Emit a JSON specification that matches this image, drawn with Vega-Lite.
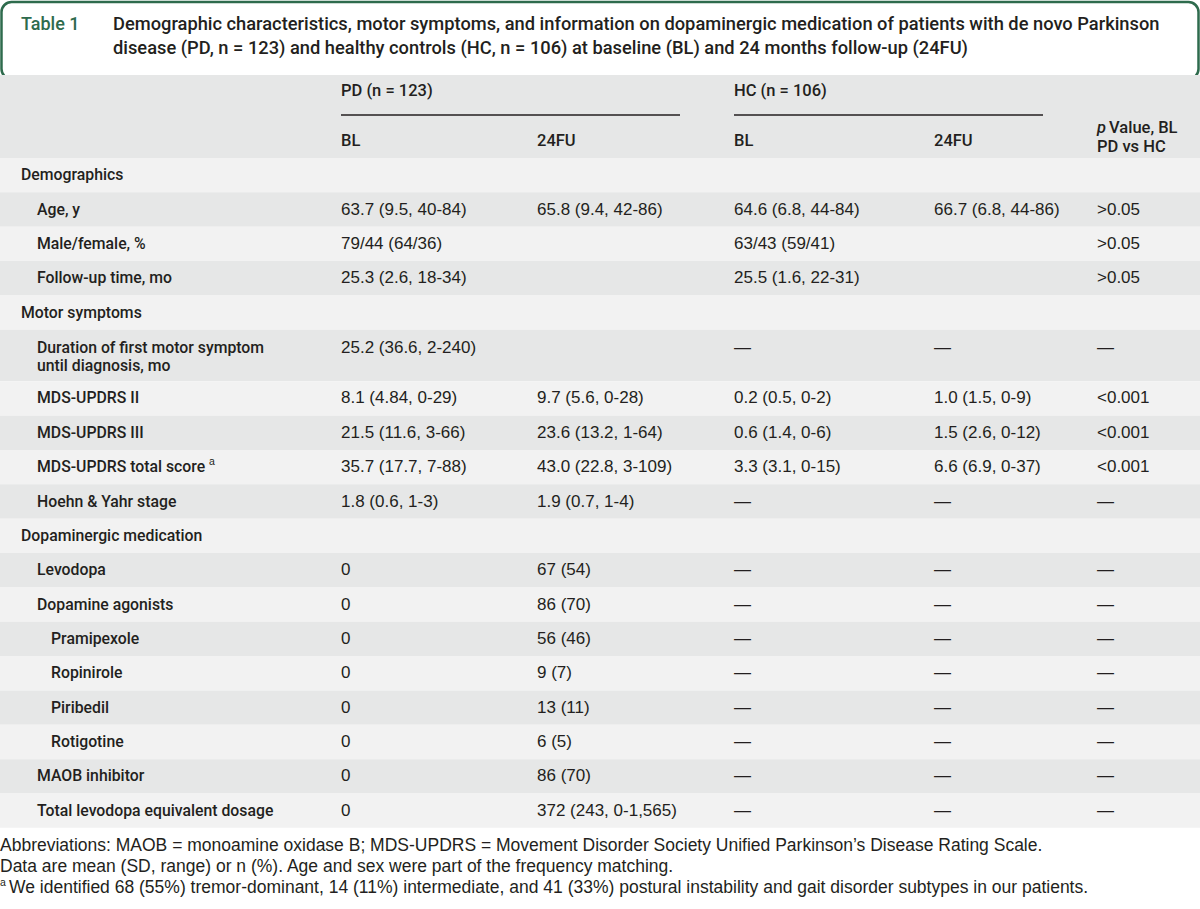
{
  "$schema": "https://vega.github.io/schema/vega-lite/v6.json",
  "width": 1200,
  "height": 909,
  "padding": 0,
  "autosize": {"type": "none"},
  "background": "#ffffff",
  "config": {"view": {"stroke": null}},
  "datasets": {
    "bands": [
      {"top": -2.416, "bottom": 0, "band": "header"},
      {"top": 0, "bottom": 1, "band": "light"},
      {"top": 1, "bottom": 2, "band": "dark"},
      {"top": 2, "bottom": 3, "band": "light"},
      {"top": 3, "bottom": 4, "band": "dark"},
      {"top": 4, "bottom": 5, "band": "light"},
      {"top": 5, "bottom": 6.5, "band": "dark"},
      {"top": 6.5, "bottom": 7.5, "band": "light"},
      {"top": 7.5, "bottom": 8.5, "band": "dark"},
      {"top": 8.5, "bottom": 9.5, "band": "light"},
      {"top": 9.5, "bottom": 10.5, "band": "dark"},
      {"top": 10.5, "bottom": 11.5, "band": "light"},
      {"top": 11.5, "bottom": 12.5, "band": "dark"},
      {"top": 12.5, "bottom": 13.5, "band": "light"},
      {"top": 13.5, "bottom": 14.5, "band": "dark"},
      {"top": 14.5, "bottom": 15.5, "band": "light"},
      {"top": 15.5, "bottom": 16.5, "band": "dark"},
      {"top": 16.5, "bottom": 17.5, "band": "light"},
      {"top": 17.5, "bottom": 18.5, "band": "dark"},
      {"top": 18.5, "bottom": 19.5, "band": "light"}
    ],
    "box": [{"top": -4.54, "bottom": -2.3, "from": 1, "to": 16}],
    "rules": [
      {"line": -1.252, "from": 8, "to": 10},
      {"line": -1.252, "from": 11, "to": 13}
    ],
    "cells": [
      {"line": -3.872, "col": 3, "text": "Table 1", "kind": "tag"},
      {"line": -3.872, "col": 6, "text": "Demographic characteristics, motor symptoms, and information on dopaminergic medication of patients with de novo Parkinson", "kind": "title"},
      {"line": -3.173, "col": 6, "text": "disease (PD, n = 123) and healthy controls (HC, n = 106) at baseline (BL) and 24 months follow-up (24FU)", "kind": "title"},
      {"line": -1.95, "col": 8, "text": "PD (n = 123)", "kind": "head"},
      {"line": -1.95, "col": 11, "text": "HC (n = 106)", "kind": "head"},
      {"line": -0.495, "col": 8, "text": "BL", "kind": "head"},
      {"line": -0.495, "col": 9, "text": "24FU", "kind": "head"},
      {"line": -0.495, "col": 11, "text": "BL", "kind": "head"},
      {"line": -0.495, "col": 12, "text": "24FU", "kind": "head"},
      {"line": -0.873, "col": 14, "text": "p", "kind": "headitalic"},
      {"line": -0.873, "col": 15, "text": "Value, BL", "kind": "head"},
      {"line": -0.32, "col": 14, "text": "PD vs HC", "kind": "head"},
      {"line": 0.5, "col": 3, "text": "Demographics", "kind": "label"},
      {"line": 1.5, "col": 4, "text": "Age, y", "kind": "label"},
      {"line": 2.5, "col": 4, "text": "Male/female, %", "kind": "label"},
      {"line": 3.5, "col": 4, "text": "Follow-up time, mo", "kind": "label"},
      {"line": 4.5, "col": 3, "text": "Motor symptoms", "kind": "label"},
      {"line": 5.53, "col": 4, "text": "Duration of first motor symptom", "kind": "label"},
      {"line": 6.05, "col": 4, "text": "until diagnosis, mo", "kind": "label"},
      {"line": 7, "col": 4, "text": "MDS-UPDRS II", "kind": "label"},
      {"line": 8, "col": 4, "text": "MDS-UPDRS III", "kind": "label"},
      {"line": 9, "col": 4, "text": "MDS-UPDRS total score", "kind": "label"},
      {"line": 9, "col": 7, "text": "a", "kind": "sup"},
      {"line": 10, "col": 4, "text": "Hoehn & Yahr stage", "kind": "label"},
      {"line": 11, "col": 3, "text": "Dopaminergic medication", "kind": "label"},
      {"line": 12, "col": 4, "text": "Levodopa", "kind": "label"},
      {"line": 13, "col": 4, "text": "Dopamine agonists", "kind": "label"},
      {"line": 14, "col": 5, "text": "Pramipexole", "kind": "label"},
      {"line": 15, "col": 5, "text": "Ropinirole", "kind": "label"},
      {"line": 16, "col": 5, "text": "Piribedil", "kind": "label"},
      {"line": 17, "col": 5, "text": "Rotigotine", "kind": "label"},
      {"line": 18, "col": 4, "text": "MAOB inhibitor", "kind": "label"},
      {"line": 19, "col": 4, "text": "Total levodopa equivalent dosage", "kind": "label"},
      {"line": 1.5, "col": 8, "text": "63.7 (9.5, 40-84)", "kind": "value"},
      {"line": 1.5, "col": 9, "text": "65.8 (9.4, 42-86)", "kind": "value"},
      {"line": 1.5, "col": 11, "text": "64.6 (6.8, 44-84)", "kind": "value"},
      {"line": 1.5, "col": 12, "text": "66.7 (6.8, 44-86)", "kind": "value"},
      {"line": 1.5, "col": 14, "text": ">0.05", "kind": "value"},
      {"line": 2.5, "col": 8, "text": "79/44 (64/36)", "kind": "value"},
      {"line": 2.5, "col": 11, "text": "63/43 (59/41)", "kind": "value"},
      {"line": 2.5, "col": 14, "text": ">0.05", "kind": "value"},
      {"line": 3.5, "col": 8, "text": "25.3 (2.6, 18-34)", "kind": "value"},
      {"line": 3.5, "col": 11, "text": "25.5 (1.6, 22-31)", "kind": "value"},
      {"line": 3.5, "col": 14, "text": ">0.05", "kind": "value"},
      {"line": 5.53, "col": 8, "text": "25.2 (36.6, 2-240)", "kind": "value"},
      {"line": 5.53, "col": 11, "text": "—", "kind": "value"},
      {"line": 5.53, "col": 12, "text": "—", "kind": "value"},
      {"line": 5.53, "col": 14, "text": "—", "kind": "value"},
      {"line": 7, "col": 8, "text": "8.1 (4.84, 0-29)", "kind": "value"},
      {"line": 7, "col": 9, "text": "9.7 (5.6, 0-28)", "kind": "value"},
      {"line": 7, "col": 11, "text": "0.2 (0.5, 0-2)", "kind": "value"},
      {"line": 7, "col": 12, "text": "1.0 (1.5, 0-9)", "kind": "value"},
      {"line": 7, "col": 14, "text": "<0.001", "kind": "value"},
      {"line": 8, "col": 8, "text": "21.5 (11.6, 3-66)", "kind": "value"},
      {"line": 8, "col": 9, "text": "23.6 (13.2, 1-64)", "kind": "value"},
      {"line": 8, "col": 11, "text": "0.6 (1.4, 0-6)", "kind": "value"},
      {"line": 8, "col": 12, "text": "1.5 (2.6, 0-12)", "kind": "value"},
      {"line": 8, "col": 14, "text": "<0.001", "kind": "value"},
      {"line": 9, "col": 8, "text": "35.7 (17.7, 7-88)", "kind": "value"},
      {"line": 9, "col": 9, "text": "43.0 (22.8, 3-109)", "kind": "value"},
      {"line": 9, "col": 11, "text": "3.3 (3.1, 0-15)", "kind": "value"},
      {"line": 9, "col": 12, "text": "6.6 (6.9, 0-37)", "kind": "value"},
      {"line": 9, "col": 14, "text": "<0.001", "kind": "value"},
      {"line": 10, "col": 8, "text": "1.8 (0.6, 1-3)", "kind": "value"},
      {"line": 10, "col": 9, "text": "1.9 (0.7, 1-4)", "kind": "value"},
      {"line": 10, "col": 11, "text": "—", "kind": "value"},
      {"line": 10, "col": 12, "text": "—", "kind": "value"},
      {"line": 10, "col": 14, "text": "—", "kind": "value"},
      {"line": 12, "col": 8, "text": "0", "kind": "value"},
      {"line": 12, "col": 9, "text": "67 (54)", "kind": "value"},
      {"line": 12, "col": 11, "text": "—", "kind": "value"},
      {"line": 12, "col": 12, "text": "—", "kind": "value"},
      {"line": 12, "col": 14, "text": "—", "kind": "value"},
      {"line": 13, "col": 8, "text": "0", "kind": "value"},
      {"line": 13, "col": 9, "text": "86 (70)", "kind": "value"},
      {"line": 13, "col": 11, "text": "—", "kind": "value"},
      {"line": 13, "col": 12, "text": "—", "kind": "value"},
      {"line": 13, "col": 14, "text": "—", "kind": "value"},
      {"line": 14, "col": 8, "text": "0", "kind": "value"},
      {"line": 14, "col": 9, "text": "56 (46)", "kind": "value"},
      {"line": 14, "col": 11, "text": "—", "kind": "value"},
      {"line": 14, "col": 12, "text": "—", "kind": "value"},
      {"line": 14, "col": 14, "text": "—", "kind": "value"},
      {"line": 15, "col": 8, "text": "0", "kind": "value"},
      {"line": 15, "col": 9, "text": "9 (7)", "kind": "value"},
      {"line": 15, "col": 11, "text": "—", "kind": "value"},
      {"line": 15, "col": 12, "text": "—", "kind": "value"},
      {"line": 15, "col": 14, "text": "—", "kind": "value"},
      {"line": 16, "col": 8, "text": "0", "kind": "value"},
      {"line": 16, "col": 9, "text": "13 (11)", "kind": "value"},
      {"line": 16, "col": 11, "text": "—", "kind": "value"},
      {"line": 16, "col": 12, "text": "—", "kind": "value"},
      {"line": 16, "col": 14, "text": "—", "kind": "value"},
      {"line": 17, "col": 8, "text": "0", "kind": "value"},
      {"line": 17, "col": 9, "text": "6 (5)", "kind": "value"},
      {"line": 17, "col": 11, "text": "—", "kind": "value"},
      {"line": 17, "col": 12, "text": "—", "kind": "value"},
      {"line": 17, "col": 14, "text": "—", "kind": "value"},
      {"line": 18, "col": 8, "text": "0", "kind": "value"},
      {"line": 18, "col": 9, "text": "86 (70)", "kind": "value"},
      {"line": 18, "col": 11, "text": "—", "kind": "value"},
      {"line": 18, "col": 12, "text": "—", "kind": "value"},
      {"line": 18, "col": 14, "text": "—", "kind": "value"},
      {"line": 19, "col": 8, "text": "0", "kind": "value"},
      {"line": 19, "col": 9, "text": "372 (243, 0-1,565)", "kind": "value"},
      {"line": 19, "col": 11, "text": "—", "kind": "value"},
      {"line": 19, "col": 12, "text": "—", "kind": "value"},
      {"line": 19, "col": 14, "text": "—", "kind": "value"},
      {"line": 20.03, "col": 0, "text": "Abbreviations: MAOB = monoamine oxidase B; MDS-UPDRS = Movement Disorder Society Unified Parkinson’s Disease Rating Scale.", "kind": "foot"},
      {"line": 20.64, "col": 0, "text": "Data are mean (SD, range) or n (%). Age and sex were part of the frequency matching.", "kind": "foot"},
      {"line": 21.25, "col": 0, "text": "a", "kind": "footsup"},
      {"line": 21.25, "col": 2, "text": "We identified 68 (55%) tremor-dominant, 14 (11%) intermediate, and 41 (33%) postural instability and gait disorder subtypes in our patients.", "kind": "foot"}
    ]
  },
  "layer": [
    {
      "data": {"name": "box"},
      "mark": {"type": "rect", "fill": "#ffffff", "stroke": "#2e6b4d", "strokeWidth": 2.5, "cornerRadius": 10},
      "encoding": {
        "x": {"field": "from", "type": "quantitative", "axis": null, "scale": {"domain": [0,1,2,3,4,5,6,7,8,9,10,11,12,13,14,15,16,17], "range": [0,1.5,9,21,37,51,113,209,341,537,680,734,934,1043,1097,1109,1198.5,1200], "zero": false, "nice": false}},
        "x2": {"field": "to"},
        "y": {"field": "top", "type": "quantitative", "axis": null, "scale": {"domain": [-4.6, 21.863], "range": [0, 909], "zero": false, "nice": false}},
        "y2": {"field": "bottom"}
      }
    },
    {
      "data": {"name": "bands"},
      "mark": {"type": "rect"},
      "encoding": {
        "x": {"datum": 0, "type": "quantitative", "axis": null, "scale": {"domain": [0,1,2,3,4,5,6,7,8,9,10,11,12,13,14,15,16,17], "range": [0,1.5,9,21,37,51,113,209,341,537,680,734,934,1043,1097,1109,1198.5,1200], "zero": false, "nice": false}},
        "x2": {"datum": 17},
        "y": {"field": "top", "type": "quantitative", "axis": null, "scale": {"domain": [-4.6, 21.863], "range": [0, 909], "zero": false, "nice": false}},
        "y2": {"field": "bottom"},
        "color": {"field": "band", "type": "nominal", "legend": null, "scale": {"domain": ["header", "dark", "light"], "range": ["#e6e7e7", "#e6e7e7", "#f2f2f2"]}}
      }
    },
    {
      "data": {"name": "rules"},
      "mark": {"type": "rule", "color": "#231f20", "strokeWidth": 1.3},
      "encoding": {
        "x": {"field": "from", "type": "quantitative", "axis": null, "scale": {"domain": [0,1,2,3,4,5,6,7,8,9,10,11,12,13,14,15,16,17], "range": [0,1.5,9,21,37,51,113,209,341,537,680,734,934,1043,1097,1109,1198.5,1200], "zero": false, "nice": false}},
        "x2": {"field": "to"},
        "y": {"field": "line", "type": "quantitative", "axis": null, "scale": {"domain": [-4.6, 21.863], "range": [0, 909], "zero": false, "nice": false}}
      }
    },
    {
      "data": {"name": "cells"},
      "transform": [{"filter": "datum.kind === 'tag'"}],
      "mark": {"type": "text", "align": "left", "baseline": "middle", "font": "Roboto", "fontWeight": 500, "fontSize": 18, "color": "#2e6b4d"},
      "encoding": {
        "x": {"field": "col", "type": "quantitative", "axis": null, "scale": {"domain": [0,1,2,3,4,5,6,7,8,9,10,11,12,13,14,15,16,17], "range": [0,1.5,9,21,37,51,113,209,341,537,680,734,934,1043,1097,1109,1198.5,1200], "zero": false, "nice": false}},
        "y": {"field": "line", "type": "quantitative", "axis": null, "scale": {"domain": [-4.6, 21.863], "range": [0, 909], "zero": false, "nice": false}},
        "text": {"field": "text"}
      }
    },
    {
      "data": {"name": "cells"},
      "transform": [{"filter": "datum.kind === 'title'"}],
      "mark": {"type": "text", "align": "left", "baseline": "middle", "font": "Roboto", "fontWeight": 500, "fontSize": 18.3, "color": "#231f20"},
      "encoding": {
        "x": {"field": "col", "type": "quantitative", "axis": null, "scale": {"domain": [0,1,2,3,4,5,6,7,8,9,10,11,12,13,14,15,16,17], "range": [0,1.5,9,21,37,51,113,209,341,537,680,734,934,1043,1097,1109,1198.5,1200], "zero": false, "nice": false}},
        "y": {"field": "line", "type": "quantitative", "axis": null, "scale": {"domain": [-4.6, 21.863], "range": [0, 909], "zero": false, "nice": false}},
        "text": {"field": "text"}
      }
    },
    {
      "data": {"name": "cells"},
      "transform": [{"filter": "datum.kind === 'label'"}],
      "mark": {"type": "text", "align": "left", "baseline": "middle", "font": "Roboto", "fontWeight": 500, "fontSize": 15.8, "color": "#231f20"},
      "encoding": {
        "x": {"field": "col", "type": "quantitative", "axis": null, "scale": {"domain": [0,1,2,3,4,5,6,7,8,9,10,11,12,13,14,15,16,17], "range": [0,1.5,9,21,37,51,113,209,341,537,680,734,934,1043,1097,1109,1198.5,1200], "zero": false, "nice": false}},
        "y": {"field": "line", "type": "quantitative", "axis": null, "scale": {"domain": [-4.6, 21.863], "range": [0, 909], "zero": false, "nice": false}},
        "text": {"field": "text"}
      }
    },
    {
      "data": {"name": "cells"},
      "transform": [{"filter": "datum.kind === 'head'"}],
      "mark": {"type": "text", "align": "left", "baseline": "middle", "font": "Roboto", "fontWeight": 500, "fontSize": 16.5, "color": "#231f20"},
      "encoding": {
        "x": {"field": "col", "type": "quantitative", "axis": null, "scale": {"domain": [0,1,2,3,4,5,6,7,8,9,10,11,12,13,14,15,16,17], "range": [0,1.5,9,21,37,51,113,209,341,537,680,734,934,1043,1097,1109,1198.5,1200], "zero": false, "nice": false}},
        "y": {"field": "line", "type": "quantitative", "axis": null, "scale": {"domain": [-4.6, 21.863], "range": [0, 909], "zero": false, "nice": false}},
        "text": {"field": "text"}
      }
    },
    {
      "data": {"name": "cells"},
      "transform": [{"filter": "datum.kind === 'headitalic'"}],
      "mark": {"type": "text", "align": "left", "baseline": "middle", "font": "Roboto", "fontWeight": 500, "fontStyle": "italic", "fontSize": 16.5, "color": "#231f20"},
      "encoding": {
        "x": {"field": "col", "type": "quantitative", "axis": null, "scale": {"domain": [0,1,2,3,4,5,6,7,8,9,10,11,12,13,14,15,16,17], "range": [0,1.5,9,21,37,51,113,209,341,537,680,734,934,1043,1097,1109,1198.5,1200], "zero": false, "nice": false}},
        "y": {"field": "line", "type": "quantitative", "axis": null, "scale": {"domain": [-4.6, 21.863], "range": [0, 909], "zero": false, "nice": false}},
        "text": {"field": "text"}
      }
    },
    {
      "data": {"name": "cells"},
      "transform": [{"filter": "datum.kind === 'sup' || datum.kind === 'footsup'"}],
      "mark": {"type": "text", "align": "left", "baseline": "middle", "font": "Liberation Sans", "fontSize": 10.5, "dy": -5, "color": "#231f20"},
      "encoding": {
        "x": {"field": "col", "type": "quantitative", "axis": null, "scale": {"domain": [0,1,2,3,4,5,6,7,8,9,10,11,12,13,14,15,16,17], "range": [0,1.5,9,21,37,51,113,209,341,537,680,734,934,1043,1097,1109,1198.5,1200], "zero": false, "nice": false}},
        "y": {"field": "line", "type": "quantitative", "axis": null, "scale": {"domain": [-4.6, 21.863], "range": [0, 909], "zero": false, "nice": false}},
        "text": {"field": "text"}
      }
    },
    {
      "data": {"name": "cells"},
      "transform": [{"filter": "datum.kind === 'value'"}],
      "mark": {"type": "text", "align": "left", "baseline": "middle", "font": "Liberation Sans", "fontSize": 17, "color": "#231f20"},
      "encoding": {
        "x": {"field": "col", "type": "quantitative", "axis": null, "scale": {"domain": [0,1,2,3,4,5,6,7,8,9,10,11,12,13,14,15,16,17], "range": [0,1.5,9,21,37,51,113,209,341,537,680,734,934,1043,1097,1109,1198.5,1200], "zero": false, "nice": false}},
        "y": {"field": "line", "type": "quantitative", "axis": null, "scale": {"domain": [-4.6, 21.863], "range": [0, 909], "zero": false, "nice": false}},
        "text": {"field": "text"}
      }
    },
    {
      "data": {"name": "cells"},
      "transform": [{"filter": "datum.kind === 'foot'"}],
      "mark": {"type": "text", "align": "left", "baseline": "middle", "font": "Liberation Sans", "fontSize": 17.5, "color": "#231f20"},
      "encoding": {
        "x": {"field": "col", "type": "quantitative", "axis": null, "scale": {"domain": [0,1,2,3,4,5,6,7,8,9,10,11,12,13,14,15,16,17], "range": [0,1.5,9,21,37,51,113,209,341,537,680,734,934,1043,1097,1109,1198.5,1200], "zero": false, "nice": false}},
        "y": {"field": "line", "type": "quantitative", "axis": null, "scale": {"domain": [-4.6, 21.863], "range": [0, 909], "zero": false, "nice": false}},
        "text": {"field": "text"}
      }
    }
  ]
}
